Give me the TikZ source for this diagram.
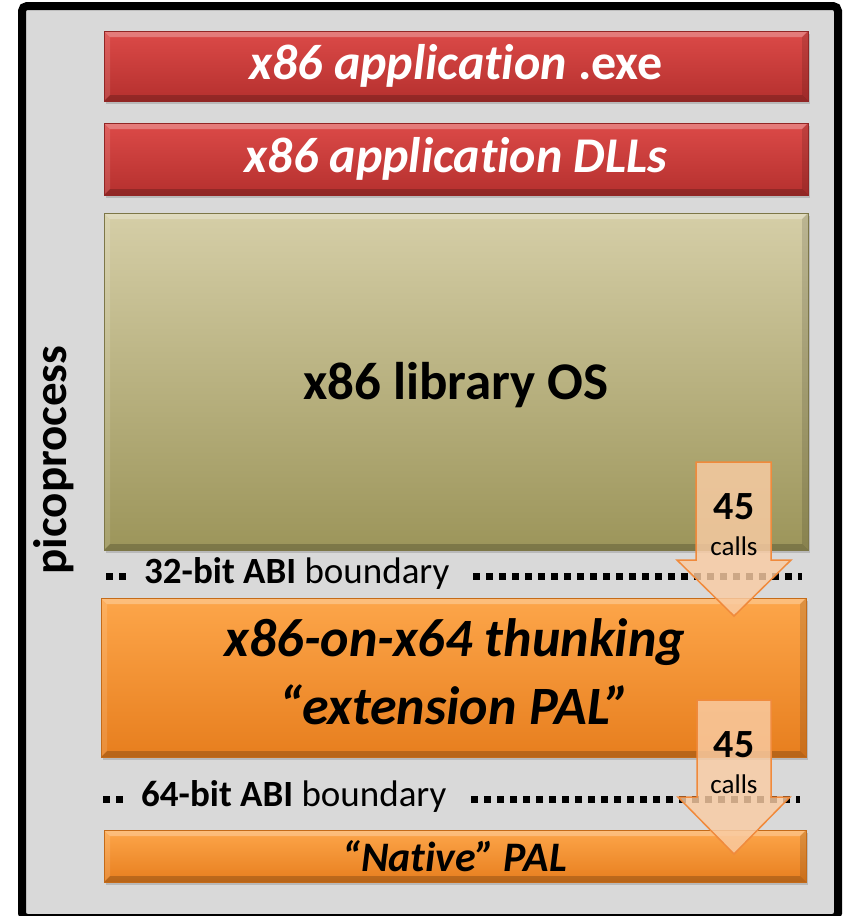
\documentclass[tikz,border=0pt]{standalone}
\usepackage{fontspec}
\setmainfont{Carlito}[Ligatures=NoCommon]
\usetikzlibrary{shadows}
\definecolor{panelgray}{HTML}{D9D9D9}
\definecolor{redtop}{HTML}{DC4A48}
\definecolor{redbot}{HTML}{B5302E}
\definecolor{olivetop}{HTML}{D5CEA7}
\definecolor{olivebot}{HTML}{9C955A}
\definecolor{orangetop}{HTML}{FDA64A}
\definecolor{orangebot}{HTML}{E77E1E}
\definecolor{arrowfill}{HTML}{F9CCA4}
\definecolor{arrowline}{HTML}{F08A3C}
\tikzset{
  bevel/.style={path picture={
    \coordinate (bnw) at (path picture bounding box.north west);
    \coordinate (bne) at (path picture bounding box.north east);
    \coordinate (bsw) at (path picture bounding box.south west);
    \coordinate (bse) at (path picture bounding box.south east);
    \fill[white, opacity=0.28] (bnw) -- (bne) -- ([shift={(-#1,-#1)}]bne) -- ([shift={(#1,-#1)}]bnw) -- cycle;
    \fill[white, opacity=0.12] (bnw) -- (bsw) -- ([shift={(#1,#1)}]bsw) -- ([shift={(#1,-#1)}]bnw) -- cycle;
    \fill[black, opacity=0.20] (bsw) -- (bse) -- ([shift={(-#1,#1)}]bse) -- ([shift={(#1,#1)}]bsw) -- cycle;
    \fill[black, opacity=0.12] (bne) -- (bse) -- ([shift={(-#1,#1)}]bse) -- ([shift={(-#1,-#1)}]bne) -- cycle;
  }},
  layer/.style={rectangle, inner sep=0pt, bevel=6pt,
    drop shadow={shadow xshift=2pt, shadow yshift=-3pt, opacity=0.35}},
  redlayer/.style={layer, top color=redtop, bottom color=redbot, draw=redbot!80!black, line width=0.6pt},
  olivelayer/.style={layer, top color=olivetop, bottom color=olivebot, draw=olivebot!80!black, line width=0.6pt},
  orangelayer/.style={layer, top color=orangetop, bottom color=orangebot, draw=orangebot!85!black, line width=0.6pt},
  boundarydots/.style={line width=7pt, dash pattern=on 7pt off 6pt},
  callarrow/.style={fill=arrowfill, fill opacity=0.82, draw=arrowline, line width=1.5pt, line join=miter},
}
\begin{document}
\begin{tikzpicture}[x=1pt, y=-1pt]
\useasboundingbox (0,0) rectangle (843,916);
\clip (0,0) rectangle (843,916);
% outer frame of the picoprocess
\draw[line width=8pt, fill=panelgray, rounded corners=5pt] (22,6) rectangle (838,918);
\node[rotate=90, font=\bfseries\fontsize{47}{50}\selectfont] (pico) at (54,460) {picoprocess};

% stacked layers
\node[redlayer, minimum width=704pt, minimum height=70pt] (exe) at (456,66)
  {\color{white}\fontsize{50}{54}\selectfont\bfseries\itshape x86 application \upshape.exe};
\node[redlayer, minimum width=704pt, minimum height=72pt] (dlls) at (456,159)
  {\color{white}\fontsize{50}{54}\selectfont\bfseries\itshape x86 application DLLs};
\node[olivelayer, minimum width=704pt, minimum height=337pt] (libos) at (456,381.5) {};
\node[font=\bfseries\fontsize{53}{58}\selectfont] (libostext) at (456,385) {x86 library OS};
\node[orangelayer, minimum width=705pt, minimum height=159pt] (thunk) at (453.5,677.5) {};
\node[font=\bfseries\itshape\fontsize{54}{60}\selectfont] (thunk1) at (455,642) {x86-on-x64 thunking};
\node[font=\bfseries\itshape\fontsize{54}{60}\selectfont] (thunk2) at (455,705) {“extension PAL”};
\node[orangelayer, minimum width=702pt, minimum height=52pt] (native) at (455,856)
  {\fontsize{42}{46}\selectfont\bfseries\itshape “Native” PAL};

% ABI boundaries
\coordinate (b32a) at (106,576);
\coordinate (b32b) at (128,576);
\coordinate (b32c) at (473,576);
\coordinate (b32d) at (802,576);
\draw[boundarydots] (b32a) -- (b32b);
\draw[boundarydots] (b32c) -- (b32d);
\node[anchor=west, inner sep=0pt, font=\fontsize{37}{40}\selectfont] (b32) at (144,573) {\textbf{32-bit ABI} boundary};
\coordinate (b64a) at (103,799);
\coordinate (b64b) at (125,799);
\coordinate (b64c) at (471,799);
\coordinate (b64d) at (800,799);
\draw[boundarydots] (b64a) -- (b64b);
\draw[boundarydots] (b64c) -- (b64d);
\node[anchor=west, inner sep=0pt, font=\fontsize{37}{40}\selectfont] (b64) at (141,796) {\textbf{64-bit ABI} boundary};

% call arrows across the boundaries
\draw[callarrow] (696,462) -- (771,462) -- (771,560) -- (791,560) -- (734,616)
  -- (677,560) -- (696,560) -- cycle;
\node[font=\bfseries\fontsize{40}{44}\selectfont] (n1) at (734,507) {45};
\node[font=\fontsize{27}{30}\selectfont] (c1) at (734,546) {calls};
\draw[callarrow] (697,700) -- (771,700) -- (771,797) -- (790,797) -- (734,854)
  -- (678,797) -- (697,797) -- cycle;
\node[font=\bfseries\fontsize{40}{44}\selectfont] (n2) at (734,745) {45};
\node[font=\fontsize{27}{30}\selectfont] (c2) at (734,784) {calls};
\end{tikzpicture}
\end{document}
